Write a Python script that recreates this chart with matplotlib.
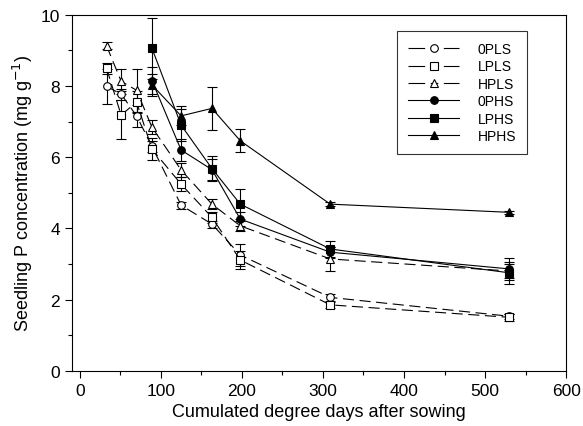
import numpy as np
import matplotlib
matplotlib.use("Agg")
import matplotlib.pyplot as plt
from matplotlib.lines import Line2D
from matplotlib.ticker import MultipleLocator

plt.rcParams['font.family'] = ['Liberation Sans', 'DejaVu Sans']

# sampling times (cumulated degree days)
x_ls = [33, 51, 70, 89, 125, 163, 198, 309, 530]
x_hs = [89, 125, 163, 198, 309, 530]

# low-P seedlings (open markers)
p0_ls = [7.99, 7.77, 7.16, 6.30, 4.65, 4.12, 3.25, 2.06, 1.53]
p0_ls_err = [0.50, 0.15, 0.30, 0.15, 0.10, 0.10, 0.30, 0.10, 0.07]
lp_ls = [8.50, 7.18, 7.55, 6.23, 5.24, 4.31, 3.11, 1.85, 1.50]
lp_ls_err = [0.15, 0.67, 0.30, 0.30, 0.20, 0.15, 0.25, 0.08, 0.10]
hp_ls = [9.13, 8.13, 7.88, 6.84, 5.64, 4.68, 4.07, 3.14, 2.80]
hp_ls_err = [0.10, 0.35, 0.60, 0.20, 0.20, 0.15, 0.15, 0.33, 0.20]

# high-P seedlings (filled markers)
p0_hs = [8.15, 6.20, 5.65, 4.26, 3.33, 2.86]
p0_hs_err = [0.38, 0.30, 0.30, 0.20, 0.15, 0.30]
lp_hs = [9.06, 6.90, 5.68, 4.68, 3.42, 2.75]
lp_hs_err = [0.85, 0.45, 0.35, 0.42, 0.22, 0.30]
hp_hs = [8.03, 7.16, 7.37, 6.46, 4.68, 4.45]
hp_hs_err = [0.30, 0.27, 0.60, 0.32, 0.05, 0.05]

fig = plt.figure(figsize=(5.83, 4.27), dpi=100)
ax = fig.add_axes([0.123, 0.1295, 0.848, 0.8335])

dash = (0, (10, 5))
# symmetric dash for the legend sample: "— -o- —"
leg_dash = (0, (15, 5, 6.8, 5, 15, 100))
common = dict(color='black', lw=0.8, ms=5.5, capsize=3.5, elinewidth=0.8,
              capthick=0.8, mew=0.8)

series = [
    (x_ls, p0_ls, p0_ls_err, 'o', 'white', dash, '0PLS'),
    (x_ls, lp_ls, lp_ls_err, 's', 'white', dash, 'LPLS'),
    (x_ls, hp_ls, hp_ls_err, '^', 'white', dash, 'HPLS'),
    (x_hs, p0_hs, p0_hs_err, 'o', 'black', '-', '0PHS'),
    (x_hs, lp_hs, lp_hs_err, 's', 'black', '-', 'LPHS'),
    (x_hs, hp_hs, hp_hs_err, '^', 'black', '-', 'HPHS'),
]
handles = []
for xs, ys, es, m, fc, ls, lab in series:
    ax.errorbar(xs, ys, yerr=es, marker=m, mfc=fc, mec='black',
                linestyle=ls, **common)
    hls = leg_dash if ls == dash else ls
    handles.append(Line2D([], [], color='black', lw=0.8, linestyle=hls,
                          marker=m, mfc=fc, mec='black', ms=5.5, mew=0.8,
                          label=lab))

ax.set_xlim(-10, 600)
ax.set_ylim(0, 10)
ax.xaxis.set_major_locator(MultipleLocator(100))
ax.xaxis.set_minor_locator(MultipleLocator(50))
ax.yaxis.set_major_locator(MultipleLocator(2))
ax.yaxis.set_minor_locator(MultipleLocator(1))
ax.tick_params(which='major', direction='out', length=5, width=0.8,
               labelsize=12.5)
ax.tick_params(which='minor', direction='out', length=3, width=0.8)
for s in ax.spines.values():
    s.set_linewidth(0.8)

ax.set_xlabel('Cumulated degree days after sowing', fontsize=13)
ax.set_ylabel('Seedling P concentration (mg g$^{-1}$)', fontsize=13)

leg = ax.legend(handles=handles, loc='upper right',
                bbox_to_anchor=(0.921, 0.955), borderaxespad=0,
                fontsize=10, frameon=True, fancybox=False,
                edgecolor='black', handlelength=3.7, handletextpad=1.3,
                labelspacing=0.25, borderpad=0.8)
leg.get_frame().set_linewidth(0.8)

fig.savefig('out.png', dpi=100)
